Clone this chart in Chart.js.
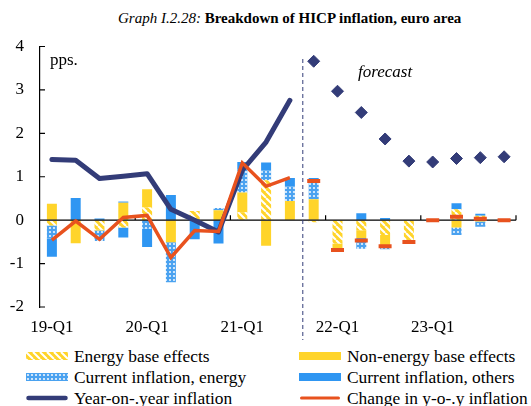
<!DOCTYPE html>
<html lang="en">
<head>
<meta charset="utf-8">
<title>Breakdown of HICP inflation, euro area</title>
<script src="https://cdn.jsdelivr.net/npm/chart.js@4.4.1/dist/chart.umd.min.js"></script>
<style>
    body {
        margin: 0;
        width: 531px;
        height: 406px;
        position: relative;
        overflow: hidden;
        background: #fff;
        color: #000;
        font-family: 'Liberation Serif', 'Times New Roman', serif;
    }
    #titulo { position: absolute; left: 118px; top: 10px; font-size: 15px; white-space: nowrap; }
    #contenedor { position: absolute; left: 0; top: 30px; }
    .nota { position: absolute; font-size: 17px; line-height: 17px; white-space: nowrap; }
    .item { position: absolute; height: 20px; display: flex; align-items: center; font-size: 17.4px; line-height: 20px; white-space: nowrap; }
    .item canvas { margin-right: 6px; }
</style>
</head>
<body>
<div id="titulo"><i>Graph I.2.28:</i> <b>Breakdown of HICP inflation, euro area</b></div>
<div id="contenedor"><canvas id="grafico" width="531" height="312"></canvas></div>
<div class="nota" style="left:50px; top:51px;">pps.</div>
<div class="nota" style="left:358px; top:63px; font-style:italic;">forecast</div>
<div id="leyenda"></div>

<script>
// Trimestres del eje x (19-Q1 ... 23-Q4)
const trimestres = [
    '19-Q1', '19-Q2', '19-Q3', '19-Q4',
    '20-Q1', '20-Q2', '20-Q3', '20-Q4',
    '21-Q1', '21-Q2', '21-Q3', '21-Q4',
    '22-Q1', '22-Q2', '22-Q3', '22-Q4',
    '23-Q1', '23-Q2', '23-Q3', '23-Q4'
];
// Solo se rotulan los primeros trimestres
const etiquetasEje = ['19-Q1', '20-Q1', '21-Q1', '22-Q1', '23-Q1'];

// Componentes de las barras (pps.)
const efectosBaseEnergia     = [-0.12, 0, -0.22, -0.17, 0.29, 0, 0.21, 0, 0.18, 0.92, 0, -0.05, -0.54, -0.23, -0.34, -0.48, 0, 0.25, 0.10, 0];
const efectosBaseNoEnergia   = [0.38, -0.53, -0.02, 0.40, 0.42, -0.51, 0, 0.23, 0.46, -0.59, 0.44, 0.48, -0.15, -0.18, -0.24, 0, 0, -0.17, -0.03, 0];
const inflacionEnergia       = [-0.30, 0, -0.24, 0.03, -0.20, -0.92, 0, 0.05, 0.52, 0.23, 0.34, 0.44, 0, -0.25, -0.09, 0, 0, -0.17, -0.12, 0];
const inflacionOtros         = [-0.42, 0.51, 0.04, -0.23, -0.42, 0.58, -0.44, -0.54, 0.18, 0.18, 0.19, 0.05, 0, 0.16, 0.05, 0, 0, 0.14, 0.05, 0];

// Inflación interanual: observada (19-Q1..21-Q3) y previsión (21-Q4..23-Q4)
const inflacionInteranual          = [1.40, 1.38, 0.96, 1.01, 1.07, 0.25, 0.00, -0.27, 1.15, 1.80, 2.76];
const inflacionInteranualPrevision = [3.66, 2.97, 2.48, 1.87, 1.36, 1.34, 1.42, 1.44, 1.46];

// Cambio en la inflación interanual
const cambioInteranual          = [-0.46, -0.02, -0.44, 0.06, 0.11, -0.86, -0.24, -0.26, 1.32, 0.78, 0.98];
const cambioInteranualPrevision = [0.90, -0.69, -0.47, -0.60, -0.50, 0.00, 0.08, 0.03, 0.00];

// Colores
const AMARILLO = '#ffd42a';
const AZUL = '#2f96f2';
const AZUL_PUNTOS = '#4aa2f0';
const AZUL_OSCURO = '#333c78';
const NARANJA = '#e8521e';
const FUENTE = "'Liberation Serif', 'Times New Roman', serif";

// Patrón rayado (efectos base energía)
function patronRayas(ctx) {
    const t = document.createElement('canvas');
    t.width = 7; t.height = 7;
    const g = t.getContext('2d');
    g.fillStyle = AMARILLO;
    g.fillRect(0, 0, 7, 7);
    g.strokeStyle = '#fff';
    g.lineWidth = 2;
    g.beginPath();
    [-7, 0, 7].forEach(d => { g.moveTo(d, 0); g.lineTo(d + 7, 7); });
    g.stroke();
    return ctx.createPattern(t, 'repeat');
}

// Patrón de puntos (inflación actual, energía)
function patronPuntos(ctx) {
    const t = document.createElement('canvas');
    t.width = 4; t.height = 4;
    const g = t.getContext('2d');
    g.fillStyle = AZUL_PUNTOS;
    g.fillRect(0, 0, 4, 4);
    g.fillStyle = 'rgba(255,255,255,0.9)';
    g.beginPath();
    g.arc(2, 2, 1.1, 0, Math.PI * 2);
    g.fill();
    return ctx.createPattern(t, 'repeat');
}

const n = trimestres.length;
const nObs = inflacionInteranual.length;
const vacios = k => Array(k).fill(null);

// Líneas auxiliares: eje cero, marcas, línea de previsión
const extras = {
    id: 'extras',
    afterDatasetDraw(chart, args) {
        if (args.index !== 0) return; // última barra dibujada
        const { ctx, chartArea, scales: { x, y } } = chart;
        const y0 = y.getPixelForValue(0);
        const medio = (x.getPixelForValue(1) - x.getPixelForValue(0)) / 2;
        ctx.save();
        ctx.strokeStyle = '#000';
        ctx.lineWidth = 1.2;
        ctx.beginPath();
        ctx.moveTo(chartArea.left, y0);
        ctx.lineTo(chartArea.right, y0);
        // marcas del eje x cada cuatro trimestres
        for (let i = 4; i <= n; i += 4) {
            const xp = x.getPixelForValue(i) - medio;
            ctx.moveTo(xp, y0);
            ctx.lineTo(xp, y0 - 5);
        }
        // marcas del eje y hacia dentro
        y.ticks.forEach(t => {
            const yp = y.getPixelForValue(t.value);
            ctx.moveTo(chartArea.left, yp);
            ctx.lineTo(chartArea.left + 5, yp);
        });
        ctx.stroke();
        ctx.restore();
    },
    afterDraw(chart) {
        const { ctx, scales: { x } } = chart;
        const xp = (x.getPixelForValue(nObs - 1) + x.getPixelForValue(nObs)) / 2 + 1;
        ctx.save();
        ctx.strokeStyle = AZUL_OSCURO;
        ctx.lineWidth = 1;
        ctx.setLineDash([4, 3]);
        ctx.beginPath();
        ctx.moveTo(xp, 29);
        ctx.lineTo(xp, 310);
        ctx.stroke();
        ctx.restore();
    }
};

const ctx = document.getElementById('grafico').getContext('2d');
const rayas = patronRayas(ctx);
const puntos = patronPuntos(ctx);

new Chart(ctx, {
    type: 'bar',
    data: {
        labels: trimestres,
        datasets: [
            { label: 'Energy base effects', data: efectosBaseEnergia, backgroundColor: rayas, stack: 'barras', order: 10 },
            { label: 'Non-energy base effects', data: efectosBaseNoEnergia, backgroundColor: AMARILLO, stack: 'barras', order: 10 },
            { label: 'Current inflation, energy', data: inflacionEnergia, backgroundColor: puntos, stack: 'barras', order: 10 },
            { label: 'Current inflation, others', data: inflacionOtros, backgroundColor: AZUL, stack: 'barras', order: 10 },
            {
                type: 'line', label: 'Year-on-.year inflation',
                data: inflacionInteranual.concat(vacios(n - nObs)),
                borderColor: AZUL_OSCURO, borderWidth: 5, borderJoinStyle: 'round', borderCapStyle: 'round',
                pointRadius: 0, stack: 'a', order: 2
            },
            {
                type: 'line', label: 'Year-on-.year inflation (forecast)',
                data: vacios(nObs).concat(inflacionInteranualPrevision),
                showLine: false, pointStyle: 'rectRot', pointRadius: 6,
                pointBackgroundColor: AZUL_OSCURO, pointBorderColor: AZUL_OSCURO, pointBorderWidth: 1,
                stack: 'b', order: 2
            },
            {
                type: 'line', label: 'Change in y-o-.y inflation',
                data: cambioInteranual.concat(vacios(n - nObs)),
                borderColor: NARANJA, borderWidth: 3.5, borderJoinStyle: 'miter',
                pointRadius: 0, stack: 'c', order: 1
            },
            {
                type: 'line', label: 'Change in y-o-.y inflation (forecast)',
                data: vacios(nObs).concat(cambioInteranualPrevision),
                showLine: false, pointStyle: 'line', pointRadius: 6.5,
                pointBorderColor: NARANJA, pointBackgroundColor: NARANJA, pointBorderWidth: 4,
                stack: 'd', order: 1
            }
        ]
    },
    options: {
        responsive: false,
        animation: false,
        layout: { padding: { top: 16.5, right: 15, bottom: 0, left: 0 } },
        datasets: { bar: { barPercentage: 0.42, categoryPercentage: 1, borderWidth: 0 } },
        plugins: { legend: { display: false }, tooltip: { enabled: false } },
        scales: {
            x: {
                stacked: true,
                grid: { display: false, drawTicks: false },
                border: { display: false },
                ticks: {
                    autoSkip: false, maxRotation: 0, padding: 10, color: '#000',
                    font: { family: FUENTE, size: 17 },
                    callback: (v, i) => etiquetasEje.includes(trimestres[i]) ? trimestres[i] : ''
                },
                afterFit: s => { s.height = 35; }
            },
            y: {
                stacked: true,
                min: -2, max: 4,
                grid: { color: 'transparent', drawTicks: false },
                border: { display: true, color: '#000', width: 1.2 },
                ticks: { stepSize: 1, padding: 16, color: '#000', font: { family: FUENTE, size: 17 } },
                // ancho fijo y sin relleno extra arriba/abajo
                afterFit: s => { s.width = 40; s.paddingTop = 0; s.paddingBottom = 0; }
            }
        }
    },
    plugins: [extras]
});

// Leyenda en HTML, dos columnas
const itemsLeyenda = [
    { texto: 'Energy base effects', tipo: 'rayas', x: 26, fila: 0 },
    { texto: 'Non-energy base effects', tipo: 'amarillo', x: 299, fila: 0 },
    { texto: 'Current inflation, energy', tipo: 'puntos', x: 26, fila: 1 },
    { texto: 'Current inflation, others', tipo: 'azul', x: 299, fila: 1 },
    { texto: 'Year-on-.year inflation', tipo: 'interanual', x: 26, fila: 2 },
    { texto: 'Change in y-o-.y inflation', tipo: 'cambio', x: 299, fila: 2 }
];
const filasY = [346, 366.5, 387.5];

const leyenda = document.getElementById('leyenda');
itemsLeyenda.forEach(it => {
    const div = document.createElement('div');
    div.className = 'item';
    div.style.left = it.x + 'px';
    div.style.top = filasY[it.fila] + 'px';
    const c = document.createElement('canvas');
    c.width = 42; c.height = 8;
    const g = c.getContext('2d');
    if (it.tipo === 'rayas') { g.fillStyle = patronRayas(g); g.fillRect(0, 0, 42, 8); }
    if (it.tipo === 'amarillo') { g.fillStyle = AMARILLO; g.fillRect(0, 0, 42, 8); }
    if (it.tipo === 'puntos') { g.fillStyle = patronPuntos(g); g.fillRect(0, 0, 42, 8); }
    if (it.tipo === 'azul') { g.fillStyle = AZUL; g.fillRect(0, 0, 42, 8); }
    if (it.tipo === 'interanual' || it.tipo === 'cambio') {
        g.strokeStyle = it.tipo === 'interanual' ? AZUL_OSCURO : NARANJA;
        g.lineWidth = it.tipo === 'interanual' ? 4.5 : 3;
        g.lineCap = 'round';
        g.beginPath(); g.moveTo(2.5, 4); g.lineTo(39.5, 4); g.stroke();
    }
    div.appendChild(c);
    div.appendChild(document.createTextNode(it.texto));
    leyenda.appendChild(div);
});
</script>
</body>
</html>
